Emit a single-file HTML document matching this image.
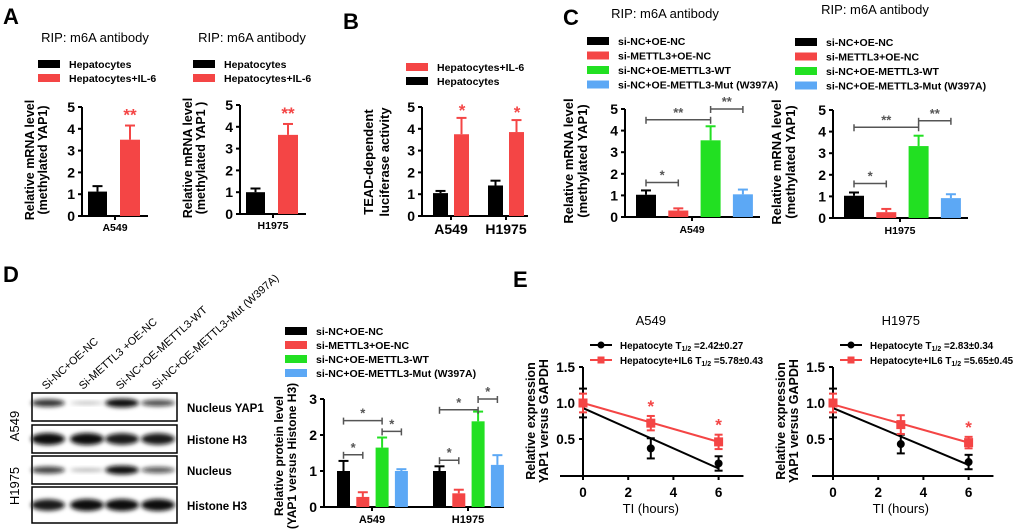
<!DOCTYPE html>
<html><head><meta charset="utf-8"><style>
html,body{margin:0;padding:0;background:#fff}
svg{display:block;font-family:"Liberation Sans",Arial,sans-serif}
</style></head><body>
<svg id="fig" width="1020" height="529" viewBox="0 0 1020 529" xmlns="http://www.w3.org/2000/svg"></svg>
<script>
const RED='#f44545', GREEN='#22e022', BLUE='#5ca8f5', BLK='#000';
// Panel A
const aCats=['A549','H1975'];
const aA549Means=[1.12,3.5], aA549Errs=[0.25,0.65];
const aH1975Means=[1.0,3.63], aH1975Errs=[0.17,0.5];
// Panel B
const bCats=['A549','H1975'];
const bHepMeans=[1.05,1.4], bHepErrs=[0.1,0.22];
const bIL6Means=[3.75,3.85], bIL6Errs=[0.75,0.55];
// Panel C
const cGroups=['si-NC+OE-NC','si-METTL3+OE-NC','si-NC+OE-METTL3-WT','si-NC+OE-METTL3-Mut (W397A)'];
const cA549Means=[1.03,0.3,3.55,1.05], cA549Errs=[0.2,0.1,0.65,0.22];
const cH1975Means=[1.03,0.27,3.33,0.92], cH1975Errs=[0.15,0.15,0.48,0.18];
// Panel D
const dCats=['A549','H1975'];
const dA549Means=[1.0,0.28,1.65,1.0], dA549Errs=[0.28,0.13,0.28,0.05];
const dH1975Means=[1.0,0.38,2.38,1.17], dH1975Errs=[0.13,0.1,0.27,0.27];
// Panel E
const eTimes=[0,3,6];
const eA549Hep=[1.0,0.37,0.16], eA549HepErr=[0.2,0.14,0.1];
const eA549IL6=[1.0,0.72,0.46], eA549IL6Err=[0.13,0.1,0.1];
const eA549HepFit=[0.93,0.09], eA549IL6Fit=[1.0,0.46];
const eH1975Hep=[1.0,0.43,0.18], eH1975HepErr=[0.2,0.13,0.1];
const eH1975IL6=[1.0,0.70,0.45], eH1975IL6Err=[0.13,0.13,0.08];
const eH1975HepFit=[0.93,0.14], eH1975IL6Fit=[0.98,0.45];
const eXTicks=[0,2,4,6], eYTicks=[0.5,1.0,1.5];

const svg=document.getElementById('fig');
const NS='http://www.w3.org/2000/svg';
function el(tag,attrs,parent,text){
  const e=document.createElementNS(NS,tag);
  for(const k in attrs) e.setAttribute(k,attrs[k]);
  if(text!==undefined) e.textContent=text;
  (parent||svg).appendChild(e); return e;
}
function txt(x,y,s,size,opt,parent,name){
  opt=opt||{};
  const t=el('text',{x:x,y:y,'font-size':size,'font-weight':opt.w||'bold','text-anchor':opt.a||'start',fill:opt.fill||'#000'},parent,s);
  if(opt.rot) t.setAttribute('transform','rotate('+opt.rot+' '+x+' '+y+')');
  
  
  return t;
}
function ln(x1,y1,x2,y2,c,w,parent){
  const l=el('line',{x1:x1,y1:y1,x2:x2,y2:y2,stroke:c||'#000','stroke-width':w||2},parent);
  return l;
}
function yAxis(g,ax,y0,yTop,max,ticks,fs){
  const sc=v=>y0-(y0-yTop)*v/max;
  const a=ln(ax,y0,ax,yTop,'#000',2,g);
  
  ticks.forEach(t=>{ln(ax-4,sc(t),ax,sc(t),'#000',2,g);
    txt(ax-7,sc(t)+5,String(t),fs||14,{a:'end'},g,'y-tick-label');});
  return sc;
}
function bar(g,x,w,y0,sc,v,e,c,name){
  const r=el('rect',{x:x,y:sc(v),width:w,height:y0-sc(v),fill:c},g);
  
  const cx=x+w/2;
  ln(cx,sc(v),cx,sc(v+e),c,2,g);ln(cx-5,sc(v+e),cx+5,sc(v+e),c,2,g);
}
function bracket(g,x1,x2,y,star){
  const gr='#555';
  ln(x1,y,x2,y,gr,1.5,g);ln(x1,y-3,x1,y+4,gr,1.5,g);ln(x2,y-3,x2,y+4,gr,1.5,g);
  txt((x1+x2)/2,y-3,star,13,{a:'middle',fill:gr},g,'significance-mark');
}
function legend(g,x,y,dy,items,fs){
  items.forEach((it,i)=>{
    const r=el('rect',{x:x,y:y+i*dy-4,width:22,height:8,fill:it[1]},g);
    
    txt(x+31,y+i*dy+4,it[0],fs||11,{},g,'legend-entry');
  });
}
function group(name){const g=el('g',{});return g;}

// ===== Panel A =====
txt(3,24,'A',22,{},svg,'panel-label-a');
function panelA(name,ax,y0,means,errs,cat,title,tx,lx){
  const g=group(name);
  txt(tx,42,title,13,{w:'normal',a:'middle'},g,'chart-title');
  legend(g,lx,64,14,[['Hepatocytes',BLK],['Hepatocytes+IL-6',RED]],10.5);
  const sc=yAxis(g,ax,y0,y0-109,5,[0,1,2,3,4,5]);
  const xa=ln(ax,y0,ax+66,y0,'#000',2,g);
  ln(ax+33,y0,ax+33,y0+4,'#000',2,g);
  bar(g,ax+6,19,y0,sc,means[0],errs[0],BLK,'bar-hepatocytes');
  bar(g,ax+38,20,y0,sc,means[1],errs[1],RED,'bar-hepatocytes-il6');
  txt(ax+48,sc(means[1]+errs[1])-5,'**',17,{a:'middle',fill:RED},g,'significance-mark');
  txt(ax+33,y0+15,cat,10.5,{a:'middle'},g,'x-tick-label');
  txt(ax-48,y0-56,'Relative mRNA level',12.5,{a:'middle',rot:-90},g,'y-axis-title');
  txt(ax-35,y0-56,'(methylated YAP1'+(name==='panel-a-h1975'?' )':')'),12.5,{a:'middle',rot:-90},g,'y-axis-title');
}
panelA('panel-a-a549',82,216,aA549Means,aA549Errs,aCats[0],'RIP: m6A antibody',95,38);
panelA('panel-a-h1975',240,214,aH1975Means,aH1975Errs,aCats[1],'RIP: m6A antibody',252,193);

// ===== Panel B =====
(function(){
  const g=group('panel-b');
  txt(343,29,'B',22,{},g,'panel-label-b');
  legend(g,406,67,14,[['Hepatocytes+IL-6',RED],['Hepatocytes',BLK]],10.5);
  const ax=422,y0=216;
  const sc=yAxis(g,ax,y0,107,5,[0,1,2,3,4,5]);
  ln(ax,y0,ax+106,y0,'#000',2,g);
  bCats.forEach((c,i)=>{
    const base=ax+11+i*55;
    ln(base+18,y0,base+18,y0+4,'#000',2,g);
    bar(g,base,15,y0,sc,bHepMeans[i],bHepErrs[i],BLK,'bar-hepatocytes');
    bar(g,base+21,15,y0,sc,bIL6Means[i],bIL6Errs[i],RED,'bar-hepatocytes-il6');
    txt(base+29,sc(bIL6Means[i]+bIL6Errs[i])-2,'*',17,{a:'middle',fill:RED},g,'significance-mark');
    txt(base+18,y0+18,c,14,{a:'middle'},g,'x-tick-label');
  });
  txt(373,162,'TEAD-dependent',13,{a:'middle',rot:-90},g,'y-axis-title');
  txt(389,162,'luciferase activity',13,{a:'middle',rot:-90},g,'y-axis-title');
})();

// ===== Panel C =====
txt(563,25,'C',22,{},svg,'panel-label-c');
const cColors=[BLK,RED,GREEN,BLUE];
function panelC(name,ax,y0,means,errs,cat,tx,ty,lx,ly,br){
  const g=group(name);
  txt(tx,ty,'RIP: m6A antibody',13,{w:'normal',a:'middle'},g,'chart-title');
  legend(g,lx,ly,14.5,cGroups.map((s,i)=>[s,cColors[i]]),10.5);
  const sc=yAxis(g,ax,y0,y0-108,5,[0,1,2,3,4,5]);
  ln(ax,y0,ax+135,y0,'#000',2,g);
  ln(ax+67,y0,ax+67,y0+4,'#000',2,g);
  const xs=means.map((m,i)=>ax+11+i*32.3);
  means.forEach((m,i)=>bar(g,xs[i],20,y0,sc,m,errs[i],cColors[i],'bar-'+['si-nc-oe-nc','si-mettl3-oe-nc','si-nc-oe-mettl3-wt','si-nc-oe-mettl3-mut'][i]));
  const c=i=>xs[i]+10;
  bracket(g,c(0),c(1),sc(br[0]),'*');
  bracket(g,c(0),c(2),sc(br[1]),'**');
  bracket(g,c(2),c(3),sc(br[2]),'**');
  txt(ax+67,y0+16,cat,10.5,{a:'middle'},g,'x-tick-label');
  txt(ax-52,y0-56,'Relative mRNA level',13,{a:'middle',rot:-90},g,'y-axis-title');
  txt(ax-38,y0-56,'(methylated YAP1)',13,{a:'middle',rot:-90},g,'y-axis-title');
}
panelC('panel-c-a549',625,217,cA549Means,cA549Errs,'A549',665,18,587,41,[1.6,4.5,5.0]);
panelC('panel-c-h1975',833,218,cH1975Means,cH1975Errs,'H1975',875,14,795,42,[1.6,4.2,4.5]);

// ===== Panel D =====
(function(){
  const g=group('panel-d');
  txt(3,282,'D',22,{},g,'panel-label-d');
  const defs=el('defs',{},g);
  const f=el('filter',{id:'blur',x:'-50%',y:'-100%',width:'200%',height:'300%'},defs);
  el('feGaussianBlur',{stdDeviation:'2'},f);
  const rows=[[393,421,'Nucleus YAP1',[0.85,0.3,1,0.75],5.5],[425,453,'Histone H3',[1,1,0.95,0.95],7.5],[456,484,'Nucleus',[0.8,0.35,1,0.7],5.5],[487,523,'Histone H3',[0.95,1,1,1],7.5]];
  const lanes=[48,87,122,158];
  rows.forEach((r,ri)=>{
    const rg=group('blot-row-'+(ri+1));g.appendChild(rg);
    el('rect',{x:32,y:r[0],width:145,height:r[1]-r[0],fill:'#fff',stroke:'#000','stroke-width':1.5},rg);
    const cy=ri===0?(r[0]+10):(r[0]+r[1])/2;
    lanes.forEach((x,i)=>{
      const e=el('ellipse',{cx:x,cy:cy,rx:17,ry:r[4]*r[3][i]*0.8,fill:'#111','fill-opacity':r[3][i],filter:'url(#blur)'},rg);
      
    });
    txt(187,(r[0]+r[1])/2+5,r[2],11.5,{},rg,'blot-label');
  });
  txt(19,426,'A549',13,{w:'normal',a:'middle',rot:-90},g,'row-label-a549');
  txt(19,486,'H1975',13,{w:'normal',a:'middle',rot:-90},g,'row-label-h1975');
  const laneLbl=['Si-NC+OE-NC','Si-METTL3 +OE-NC','Si-NC+OE-METTL3-WT','Si-NC+OE-METTL3-Mut (W397A)'];
  [46,83,120,156].forEach((x,i)=>txt(x,390,laneLbl[i],11,{w:'normal',rot:-42},g,'lane-label'));
  legend(g,285,331,14,cGroups.map((s,i)=>[s,cColors[i]]),10.5);
  const ax=324,y0=507;
  const sc=yAxis(g,ax,y0,399,3,[0,1,2,3]);
  ln(ax,y0,ax+180,y0,'#000',2,g);
  const data=[dA549Means,dH1975Means], errs=[dA549Errs,dH1975Errs];
  const brs=[[1.45,2.4,2.1],[1.3,2.7,3.0]];
  dCats.forEach((cat,k)=>{
    const base=ax+13+k*96;
    const xs=[0,1,2,3].map(i=>base+i*19.3);
    data[k].forEach((m,i)=>bar(g,xs[i],13,y0,sc,m,errs[k][i],cColors[i],'bar-'+cat.toLowerCase()+'-'+i));
    const c=i=>xs[i]+6.5;
    bracket(g,c(0),c(1),sc(brs[k][0]),'*');
    bracket(g,c(0),c(2),sc(brs[k][1]),'*');
    bracket(g,c(2),c(3),sc(brs[k][2]),'*');
    ln(base+35,y0,base+35,y0+4,'#000',2,g);
    txt(base+35,y0+16,cat,11,{a:'middle'},g,'x-tick-label');
  });
  txt(283,456,'Relative protein level',12,{a:'middle',rot:-90},g,'y-axis-title');
  txt(296,456,'(YAP1 versus Histone H3)',12,{a:'middle',rot:-90},g,'y-axis-title');
})();

// ===== Panel E =====
txt(513,287,'E',22,{},svg,'panel-label-e');
function panelE(name,x0px,axStart,title,hep,hepE,il6,il6E,hepFit,il6Fit,hepT,il6T,stars){
  const g=group(name);
  const y0=475, py=72, px=22.6;
  const sx=t=>x0px+t*px, sy=v=>y0-v*py;
  txt(sx(3),325,title,13,{w:'normal',a:'middle'},g,'chart-title');
  const lgx=x0px+7;
  [[BLK,'Hepatocyte ',hepT,'circle'],[RED,'Hepatocyte+IL6 ',il6T,'square']].forEach((it,i)=>{
    const y=345+i*15;
    ln(lgx,y,lgx+22,y,it[0],2,g);
    if(it[3]==='circle') el('circle',{cx:lgx+11,cy:y,r:3.5,fill:it[0]},g);
    else el('rect',{x:lgx+7.5,y:y-3.5,width:7,height:7,fill:it[0]},g);
    const t=txt(lgx+30,y+4,it[1]+'T',9.8,{},g,'legend-entry');
    el('tspan',{'font-size':7,dy:2},t,'1/2');
    el('tspan',{dy:-2},t,' ='+it[2]);
  });
  const ya=ln(sx(0),y0+1,sx(0),sy(1.5),'#000',2,g);
  eYTicks.forEach(t=>{ln(sx(0)-4,sy(t),sx(0),sy(t),'#000',2,g);txt(sx(0)-8,sy(t)+5,t.toFixed(1),13.5,{a:'end'},g,'y-tick-label');});
  ln(axStart,y0+1,sx(7.1),y0+1,'#000',2,g);
  eXTicks.forEach(t=>{ln(sx(t),y0+1,sx(t),y0+5,'#000',2,g);txt(sx(t),y0+22,String(t),13.5,{a:'middle'},g,'x-tick-label');});
  txt(sx(3),y0+38,'TI (hours)',13,{w:'normal',a:'middle'},g,'x-axis-title');
  txt(x0px-48,y0-54,'Relative expression',12.5,{a:'middle',rot:-90},g,'y-axis-title');
  txt(x0px-35,y0-54,'YAP1 versus GAPDH',12.5,{a:'middle',rot:-90},g,'y-axis-title');
  const t0=eTimes[0], t1=eTimes[eTimes.length-1];
  ln(sx(t0),sy(hepFit[0]),sx(t1),sy(hepFit[1]),BLK,2,g);
  ln(sx(t0),sy(il6Fit[0]),sx(t1),sy(il6Fit[1]),RED,2,g);
  eTimes.forEach((t,i)=>{
    const x=sx(t);
    ln(x,sy(hep[i]-hepE[i]),x,sy(hep[i]+hepE[i]),BLK,2,g);
    ln(x-4,sy(hep[i]-hepE[i]),x+4,sy(hep[i]-hepE[i]),BLK,2,g);ln(x-4,sy(hep[i]+hepE[i]),x+4,sy(hep[i]+hepE[i]),BLK,2,g);
    const c=el('circle',{cx:x,cy:sy(hep[i]),r:4,fill:BLK},g);
    
    ln(x,sy(il6[i]-il6E[i]),x,sy(il6[i]+il6E[i]),RED,2,g);
    ln(x-4,sy(il6[i]-il6E[i]),x+4,sy(il6[i]-il6E[i]),RED,2,g);ln(x-4,sy(il6[i]+il6E[i]),x+4,sy(il6[i]+il6E[i]),RED,2,g);
    const s=el('rect',{x:x-4.5,y:sy(il6[i])-4.5,width:9,height:9,fill:RED},g);
    
    if(stars[i]) txt(x,sy(il6[i]+il6E[i])-4,'*',17,{a:'middle',fill:RED},g,'significance-mark');
  });
}
panelE('panel-e-a549',583,560,'A549',eA549Hep,eA549HepErr,eA549IL6,eA549IL6Err,eA549HepFit,eA549IL6Fit,'2.42±0.27','5.78±0.43',[0,1,1]);
panelE('panel-e-h1975',833,812,'H1975',eH1975Hep,eH1975HepErr,eH1975IL6,eH1975IL6Err,eH1975HepFit,eH1975IL6Fit,'2.83±0.34','5.65±0.45',[0,0,1]);
</script>
</body></html>
